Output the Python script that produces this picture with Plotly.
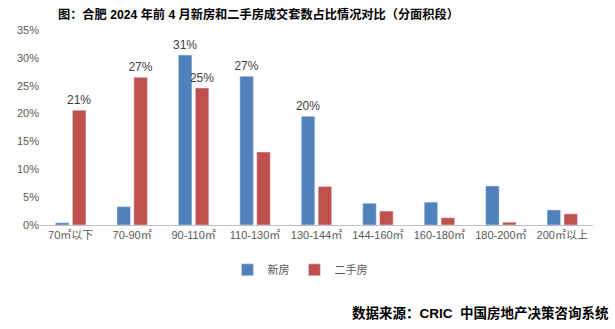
import plotly.graph_objects as go

# Area segments
categories = ["70㎡以下", "70-90㎡", "90-110㎡", "110-130㎡", "130-144㎡",
              "144-160㎡", "160-180㎡", "180-200㎡", "200㎡以上"]

# Share of transactions (%) by segment
new_homes = [0.4, 3.3, 30.5, 26.7, 19.5, 3.9, 4.1, 7.0, 2.7]
resale_homes = [20.6, 26.5, 24.6, 13.1, 6.9, 2.5, 1.3, 0.5, 2.0]

y_ticks = [0, 5, 10, 15, 20, 25, 30, 35]

LABEL_MIN = 19  # only the larger shares carry a value label


def labels(values):
    return [f"{int(v + 0.5)}%" if v >= LABEL_MIN else "" for v in values]


BLUE = "#4F81BD"
RED = "#C0504D"
GRAY = "#595959"
CJK = "Noto Sans CJK SC"
LABEL_FONT = dict(size=12, color="#404040", family="Liberation Sans")

fig = go.Figure()
fig.add_trace(go.Bar(
    name="新房", x=categories, y=new_homes, marker_color=BLUE,
    text=labels(new_homes), textposition="outside", cliponaxis=False,
    constraintext="none", textfont=LABEL_FONT,
))
fig.add_trace(go.Bar(
    name="二手房", x=categories, y=resale_homes, marker_color=RED,
    text=labels(resale_homes), textposition="outside", cliponaxis=False,
    constraintext="none", textfont=LABEL_FONT,
))

fig.update_layout(
    width=615, height=329,
    margin=dict(l=40, r=22, t=30, b=104),
    paper_bgcolor="white", plot_bgcolor="white",
    barmode="group", bargap=0.45, bargroupgap=0.2,
    font=dict(family=f"Liberation Sans, {CJK}", size=11, color=GRAY),
    showlegend=True,
    legend=dict(orientation="h", x=0.47, xanchor="center", y=-0.23, yanchor="middle",
                font=dict(size=11, color=GRAY, family=f"Liberation Sans, {CJK}"),
                itemwidth=30, traceorder="normal"),
    annotations=[
        dict(text="<b>图：合肥 2024 年前 4 月新房和二手房成交套数占比情况对比（分面积段）</b>",
             xref="paper", yref="paper", x=218 / 553, y=1.077, xanchor="center",
             yanchor="middle", showarrow=False,
             font=dict(size=12.2, color="#000000", family=f"Liberation Sans, {CJK}")),
        dict(text="<b>数据来源：CRIC  中国房地产决策咨询系统</b>",
             xref="paper", yref="paper", x=1.033, xanchor="right", y=-0.45, yanchor="middle",
             showarrow=False,
             font=dict(size=13.5, color="#000000", family=f"Liberation Sans, {CJK}")),
    ],
)

fig.update_xaxes(
    showline=True, linecolor="#BFBFBF", linewidth=1,
    ticks="", showgrid=False,
    tickfont=dict(size=11, color=GRAY, family=f"Liberation Sans, {CJK}"),
)
fig.update_yaxes(
    range=[0, 35], tickvals=y_ticks, ticktext=[f"{v}%" for v in y_ticks],
    showgrid=False, zeroline=False, showline=False,
    tickfont=dict(size=11, color=GRAY),
)

fig.write_html("out.html")
